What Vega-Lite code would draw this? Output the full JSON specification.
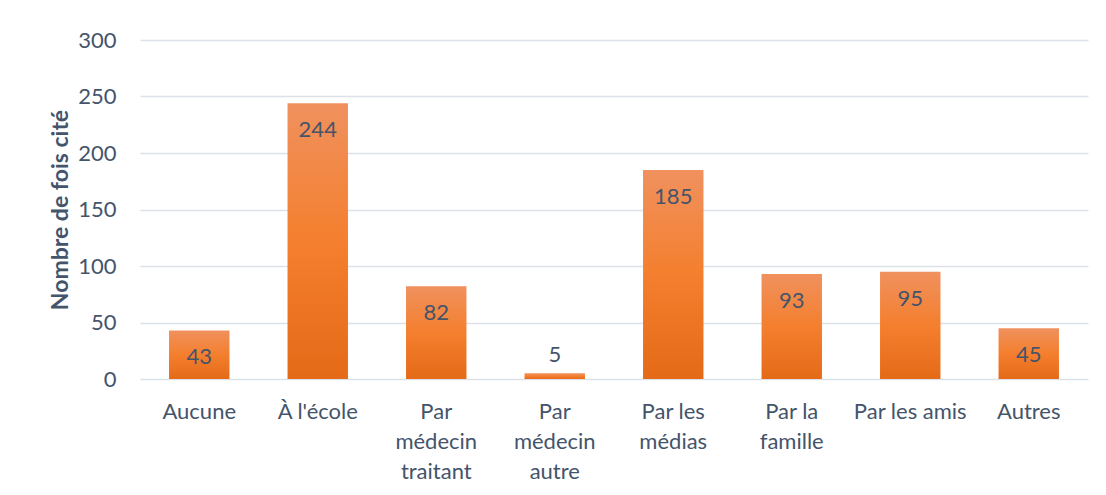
{
  "$schema": "https://vega.github.io/schema/vega-lite/v6.json",
  "width": 948,
  "height": 339,
  "autosize": {"type": "none"},
  "padding": {"left": 140, "top": 40, "right": 18, "bottom": 116},
  "background": "white",
  "config": {
    "view": {"stroke": null},
    "font": "Lato"
  },
  "data": {
    "values": [
      {"source": "Aucune", "count": 43},
      {"source": "À l'école", "count": 244},
      {"source": "Par médecin traitant", "count": 82},
      {"source": "Par médecin autre", "count": 5},
      {"source": "Par les médias", "count": 185},
      {"source": "Par la famille", "count": 93},
      {"source": "Par les amis", "count": 95},
      {"source": "Autres", "count": 45}
    ]
  },
  "encoding": {
    "x": {
      "field": "source",
      "type": "nominal",
      "sort": null,
      "scale": {"paddingInner": 0.49, "paddingOuter": 0.245},
      "axis": {
        "title": null,
        "labelAngle": 0,
        "domain": false,
        "ticks": false,
        "labelFont": "Lato",
        "labelFontSize": 22,
        "labelColor": "#44546A",
        "labelPadding": 22,
        "labelLineHeight": 30,
        "labelExpr": "datum.label == 'Par médecin traitant' ? ['Par','médecin','traitant'] : datum.label == 'Par médecin autre' ? ['Par','médecin','autre'] : datum.label == 'Par les médias' ? ['Par les','médias'] : datum.label == 'Par la famille' ? ['Par la','famille'] : datum.label"
      }
    },
    "y": {
      "field": "count",
      "type": "quantitative",
      "scale": {"domain": [0, 300], "nice": false},
      "axis": {
        "title": "Nombre de fois cité",
        "titleFont": "Lato",
        "titleFontSize": 23,
        "titleFontWeight": "bold",
        "titleColor": "#44546A",
        "titlePadding": 5,
        "values": [0, 50, 100, 150, 200, 250, 300],
        "domain": false,
        "ticks": false,
        "labelFont": "Lato",
        "labelFontSize": 22,
        "labelColor": "#44546A",
        "labelPadding": 24,
        "gridColor": "#DCE1E8",
        "gridWidth": 1.5
      }
    }
  },
  "layer": [
    {
      "mark": {
        "type": "bar",
        "color": {
          "gradient": "linear",
          "x1": 0, "y1": 0, "x2": 0, "y2": 1,
          "stops": [
            {"offset": 0, "color": "#F0915E"},
            {"offset": 0.5, "color": "#F47F2E"},
            {"offset": 1, "color": "#E46A17"}
          ]
        }
      }
    },
    {
      "transform": [{"filter": "datum.count >= 20"}],
      "mark": {"type": "text", "baseline": "middle", "dy": 27, "fontSize": 22, "color": "#44546A", "font": "Lato"},
      "encoding": {"text": {"field": "count", "type": "quantitative"}}
    },
    {
      "transform": [{"filter": "datum.count < 20"}],
      "mark": {"type": "text", "baseline": "middle", "dy": -18, "fontSize": 22, "color": "#44546A", "font": "Lato"},
      "encoding": {"text": {"field": "count", "type": "quantitative"}}
    }
  ]
}
